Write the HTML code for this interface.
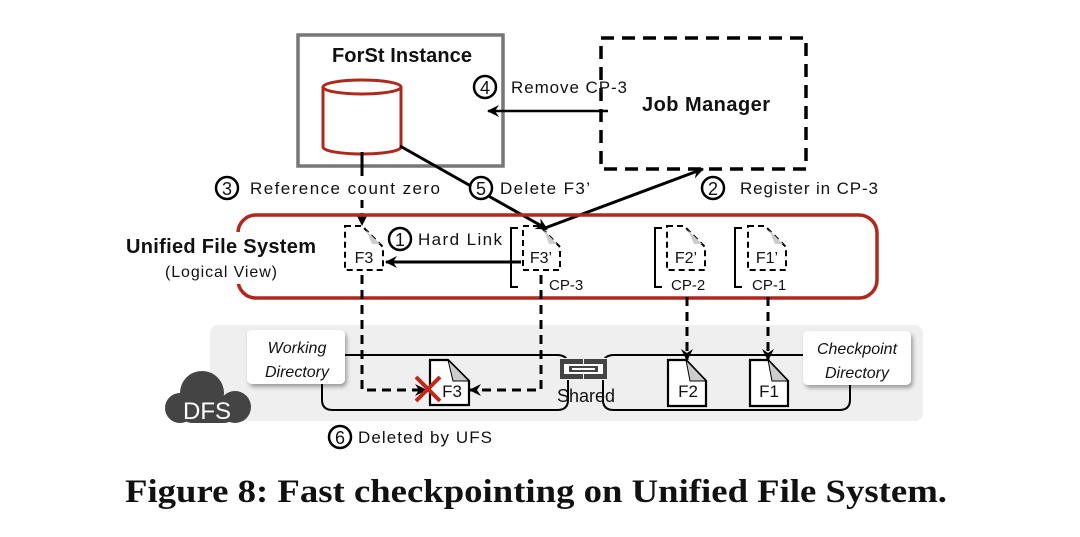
<!DOCTYPE html>
<html><head><meta charset="utf-8"><style>
html,body{margin:0;padding:0;background:#fff;}
svg{display:block;}
text{font-family:"Liberation Sans",sans-serif;fill:#111;}
.b{font-weight:bold;}
</style></head><body>
<svg width="1080" height="537" viewBox="0 0 1080 537" xmlns="http://www.w3.org/2000/svg">
<defs>
<marker id="ah" markerWidth="14" markerHeight="14" refX="11" refY="6" orient="auto" markerUnits="userSpaceOnUse">
<path d="M0,0 L12,6 L0,12 L4,6 Z" fill="#000"/></marker>
<filter id="sh" x="-20%" y="-20%" width="150%" height="150%"><feDropShadow dx="2" dy="3" stdDeviation="2" flood-color="#000" flood-opacity="0.35"/></filter>
</defs>

<!-- ForSt -->
<rect x="298" y="35" width="205" height="131" fill="#fff" stroke="#777" stroke-width="3.5"/>
<text x="402" y="62" font-size="20" class="b" text-anchor="middle" textLength="140">ForSt Instance</text>
<path d="M323,87 L323,147 A39,7 0 0 0 401,147 L401,87" fill="#fff" stroke="#b0281c" stroke-width="3"/>
<ellipse cx="362" cy="87" rx="39" ry="7" fill="#fff" stroke="#b0281c" stroke-width="3"/>

<!-- Job Manager -->
<rect x="601" y="38" width="205" height="131" fill="none" stroke="#000" stroke-width="3.5" stroke-dasharray="13,8"/>
<text x="706" y="111" font-size="20" class="b" text-anchor="middle" textLength="128">Job Manager</text>

<!-- 4 -->
<line x1="608" y1="111" x2="488" y2="111" stroke="#000" stroke-width="2.5" marker-end="url(#ah)"/>
<circle cx="485" cy="87" r="11" fill="#fff" stroke="#000" stroke-width="2.5"/>
<text x="485" y="94" font-size="18" text-anchor="middle">4</text>
<text x="511" y="93" font-size="17" textLength="116">Remove CP-3</text>

<!-- 3 -->
<line x1="362" y1="152" x2="362" y2="176" stroke="#000" stroke-width="3"/>
<line x1="362" y1="200" x2="362" y2="225" stroke="#000" stroke-width="3" stroke-dasharray="8,5" marker-end="url(#ah)"/>
<circle cx="227" cy="188" r="11" fill="#fff" stroke="#000" stroke-width="2.5"/>
<text x="227" y="195" font-size="18" text-anchor="middle">3</text>
<text x="250" y="194" font-size="17" textLength="190">Reference count zero</text>

<!-- 5 -->
<line x1="400" y1="146" x2="547" y2="229" stroke="#000" stroke-width="3" marker-end="url(#ah)"/>
<circle cx="481" cy="188" r="11" fill="#fff" stroke="#000" stroke-width="2.5"/>
<text x="481" y="195" font-size="18" text-anchor="middle">5</text>
<text x="500" y="194" font-size="17" textLength="90">Delete F3’</text>

<!-- 2 -->
<line x1="545" y1="228" x2="703" y2="169" stroke="#000" stroke-width="3" marker-end="url(#ah)"/>
<circle cx="713" cy="188" r="11" fill="#fff" stroke="#000" stroke-width="2.5"/>
<text x="713" y="195" font-size="18" text-anchor="middle">2</text>
<text x="740" y="194" font-size="17" textLength="138">Register in CP-3</text>

<!-- UFS -->
<rect x="238" y="215" width="639" height="83" rx="18" fill="none" stroke="#b0281c" stroke-width="3.5"/>
<rect x="228" y="232" width="92" height="52" fill="#fff"/>
<text x="126" y="253" font-size="20" class="b" textLength="190">Unified File System</text>
<text x="165" y="277" font-size="16" textLength="112">(Logical View)</text>

<!-- dashed docs -->
<g fill="none" stroke="#000" stroke-width="2" stroke-dasharray="6,4">
<path d="M345,226 L362,226 L383,247 L383,270 L345,270 Z"/>
<path d="M523,226 L540,226 L560,247 L560,270 L523,270 Z"/>
<path d="M667,226 L684,226 L705,247 L705,270 L667,270 Z"/>
<path d="M748,226 L765,226 L786,247 L786,270 L748,270 Z"/>
</g>
<g fill="#ccc"><path d="M366,230 L380,244 L372,244 Z"/><path d="M544,230 L557,244 L549,244 Z"/><path d="M688,230 L702,244 L694,244 Z"/><path d="M769,230 L783,244 L775,244 Z"/></g>
<text x="364" y="263" font-size="16" text-anchor="middle">F3</text>
<text x="541" y="263" font-size="16" text-anchor="middle">F3’</text>
<text x="686" y="263" font-size="16" text-anchor="middle">F2’</text>
<text x="767" y="263" font-size="16" text-anchor="middle">F1’</text>
<g fill="none" stroke="#000" stroke-width="2">
<path d="M518,228 L511,228 L511,287 L518,287"/>
<path d="M662,228 L655,228 L655,287 L662,287"/>
<path d="M742,228 L735,228 L735,287 L742,287"/>
</g>
<text x="549" y="290" font-size="15">CP-3</text>
<text x="671" y="290" font-size="15">CP-2</text>
<text x="752" y="290" font-size="15">CP-1</text>

<!-- 1 -->
<line x1="521" y1="262" x2="386" y2="262" stroke="#000" stroke-width="3" marker-end="url(#ah)"/>
<circle cx="400" cy="239" r="11" fill="#fff" stroke="#000" stroke-width="2.5"/>
<text x="400" y="246" font-size="18" text-anchor="middle">1</text>
<text x="418" y="245" font-size="17" textLength="84">Hard Link</text>

<!-- DFS band -->
<rect x="210" y="325" width="713" height="96" rx="8" fill="#efefef"/>
<path d="M338,355 L557,355 Q568,355 568,365 L568,400 Q568,410 557,410 L333,410 Q322,410 322,400 L322,380" fill="none" stroke="#000" stroke-width="2"/>
<path d="M603,365 Q603,355 614,355 L850,355 L850,400 Q850,410 839,410 L614,410 Q603,410 603,400 Z" fill="none" stroke="#000" stroke-width="2"/>
<rect x="247" y="330" width="98" height="54" rx="5" fill="#fff" filter="url(#sh)"/>
<text x="297" y="353" font-size="16" font-style="italic" text-anchor="middle">Working</text>
<text x="297" y="377" font-size="16" font-style="italic" text-anchor="middle">Directory</text>
<rect x="803" y="331" width="108" height="54" rx="5" fill="#fff" filter="url(#sh)"/>
<text x="857" y="354" font-size="16" font-style="italic" text-anchor="middle">Checkpoint</text>
<text x="857" y="378" font-size="16" font-style="italic" text-anchor="middle">Directory</text>

<!-- dashed vertical lines -->
<g fill="none" stroke="#000" stroke-width="3" stroke-dasharray="9,6">
<path d="M362,275 L362,390 L426,390" marker-end="url(#ah)"/>
<path d="M541,275 L541,390 L470,390" marker-end="url(#ah)"/>
<path d="M687,297 L687,360" marker-end="url(#ah)"/>
<path d="M768,297 L768,360" marker-end="url(#ah)"/>
</g>

<!-- solid docs -->
<g fill="#fff" stroke="#000" stroke-width="2.2">
<path d="M430,360 L448,360 L469,381 L469,405 L430,405 Z"/>
<path d="M668,360 L686,360 L706,381 L706,406 L668,406 Z"/>
<path d="M750,360 L768,360 L788,381 L788,406 L750,406 Z"/>
</g>
<g fill="#ccc" stroke="#000" stroke-width="1"><path d="M448,360 L469,381 L453,381 Z"/><path d="M686,360 L706,381 L690,381 Z"/><path d="M768,360 L788,381 L772,381 Z"/></g>
<text x="452" y="397" font-size="17" text-anchor="middle">F3</text>
<text x="688" y="397" font-size="17" text-anchor="middle">F2</text>
<text x="769" y="397" font-size="17" text-anchor="middle">F1</text>
<g stroke="#c0281c" stroke-width="4"><line x1="416" y1="377" x2="440" y2="401"/><line x1="440" y1="377" x2="416" y2="401"/></g>

<!-- shared icon -->
<rect x="558" y="358" width="51" height="22" fill="#efefef"/>
<g fill="#444"><rect x="560" y="359" width="23" height="20"/><rect x="584" y="359" width="23" height="20"/></g>
<rect x="564" y="364" width="39" height="10" fill="#fff"/>
<rect x="569" y="366" width="29" height="6" fill="#444"/>
<rect x="572" y="368" width="23" height="2" fill="#fff"/>
<text x="586" y="402" font-size="18" text-anchor="middle">Shared</text>

<!-- DFS cloud -->
<g fill="#444">
<circle cx="202" cy="393" r="22"/><circle cx="180" cy="408" r="15"/><circle cx="235" cy="407" r="16"/><rect x="180" y="398" width="56" height="25" rx="12"/>
</g>
<text x="207" y="419" font-size="24" style="fill:#fff" text-anchor="middle">DFS</text>

<!-- 6 -->
<circle cx="340" cy="437" r="11" fill="#fff" stroke="#000" stroke-width="2.5"/>
<text x="340" y="444" font-size="18" text-anchor="middle">6</text>
<text x="358" y="443" font-size="17" textLength="134">Deleted by UFS</text>

<!-- caption -->
<text x="125" y="502" font-size="33" font-weight="bold" style="font-family:'Liberation Serif',serif" textLength="822" lengthAdjust="spacingAndGlyphs">Figure 8: Fast checkpointing on Unified File System.</text>
</svg>
</body></html>
